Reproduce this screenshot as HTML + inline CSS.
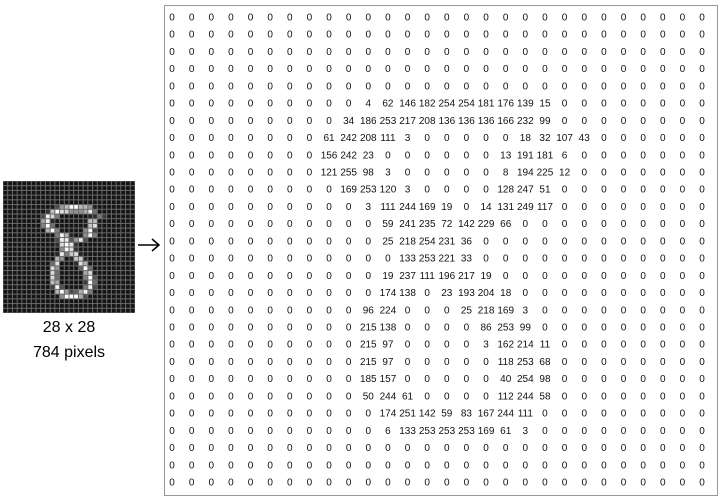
<!DOCTYPE html>
<html><head><meta charset="utf-8"><style>
body{margin:0;width:728px;height:502px;background:#fff;font-family:"Liberation Sans",Arial,sans-serif;overflow:hidden}
svg{position:absolute;left:0;top:0}
</style></head><body>
<svg id="s" width="728" height="502">
<rect x="164.5" y="5.5" width="553" height="490" fill="#fff" stroke="#999"/>
<text x="69" y="332" font-size="16" text-anchor="middle" fill="#000">28 x 28</text>
<text x="69" y="357" font-size="16" text-anchor="middle" fill="#000">784 pixels</text>
<g stroke="#000" stroke-width="1.5" fill="none">
<line x1="138" y1="245" x2="159" y2="245"/><polyline points="152,239 159,245 152,251"/></g>
<g id="img"></g>
<g id="mat"></g>
</svg>
<script>
const rowStarts=[5,6,7,8,9,10,11,12,13,14,15,16,17,18,19,20,21,22,23,24];
const colStarts=[10,9,8,8,8,9,10,11,11,12,11,11,10,10,10,10,10,10,11,11];
const rowValues=[
[4,62,146,182,254,254,181,176,139,15],
[34,186,253,217,208,136,136,136,166,232,99],
[61,242,208,111,3,0,0,0,0,0,18,32,107,43],
[156,242,23,0,0,0,0,0,0,13,191,181,6],
[121,255,98,3,0,0,0,0,0,8,194,225,12],
[169,253,120,3,0,0,0,0,128,247,51],
[3,111,244,169,19,0,14,131,249,117],
[59,241,235,72,142,229,66],
[25,218,254,231,36],
[133,253,221,33],
[19,237,111,196,217,19],
[174,138,0,23,193,204,18],
[96,224,0,0,0,25,218,169,3],
[215,138,0,0,0,0,86,253,99],
[215,97,0,0,0,0,3,162,214,11],
[215,97,0,0,0,0,0,118,253,68],
[185,157,0,0,0,0,0,40,254,98],
[50,244,61,0,0,0,0,112,244,58],
[174,251,142,59,83,167,244,111],
[6,133,253,253,253,169,61,3]];
const N=28;
const M=[];for(let r=0;r<N;r++){M.push(new Array(N).fill(0));}
rowStarts.forEach((r,i)=>{rowValues[i].forEach((v,j)=>{M[r][colStarts[i]+j]=v;});});
const NS="http://www.w3.org/2000/svg";
const colX=c=>172+c*(530/27), rowY=r=>17+r*(465/27);
const mat=document.getElementById('mat'), img=document.getElementById('img');
const bg=document.createElementNS(NS,'rect');
bg.setAttribute('x',3);bg.setAttribute('y',181);bg.setAttribute('width',132);bg.setAttribute('height',132);bg.setAttribute('fill','#6a6a6a');


img.appendChild(bg);
const cs=132/28;
for(let r=0;r<N;r++)for(let c=0;c<N;c++){
 const v=M[r][c];
 const t=document.createElementNS(NS,'text');
 t.setAttribute('x',colX(c));t.setAttribute('y',rowY(r)+3.5);
 t.setAttribute('font-size','10');t.setAttribute('text-anchor','middle');t.setAttribute('fill','#111');
 t.textContent=v;
 
 
 mat.appendChild(t);
 const q=document.createElementNS(NS,'rect');
 q.setAttribute('x',3+c*cs+0.5);q.setAttribute('y',181+r*cs+0.5);
 q.setAttribute('width',cs-1);q.setAttribute('height',cs-1);
 const g=Math.round(20+v*0.92);
 q.setAttribute('fill','rgb('+g+','+g+','+g+')');
 
 
 img.appendChild(q);
}
</script>
</body></html>
